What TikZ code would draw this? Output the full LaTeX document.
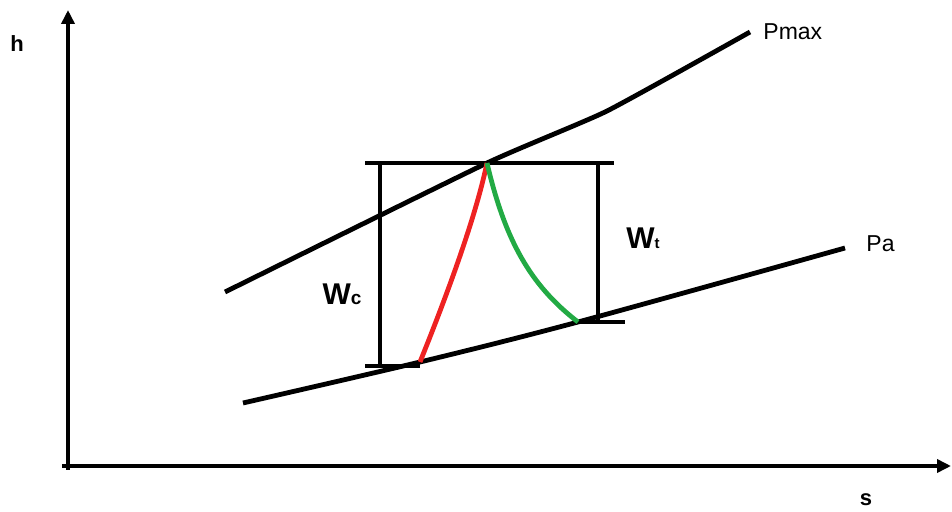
\documentclass[tikz,border=0pt]{standalone}
\usepackage{fontspec}
\setmainfont{Liberation Sans}
\usetikzlibrary{arrows.meta,positioning}
\definecolor{curvered}  {HTML}{EE2222}
\definecolor{curvegreen}{HTML}{22AA44}

\begin{document}
\begin{tikzpicture}[
  x=0.5pt,y=-0.5pt,
  axis/.style={line width=2.4pt,-{Triangle[length=7pt,width=6.5pt]}},
  isobar/.style={line width=2.4pt},
  bar/.style={line width=2.4pt},
  lbl/.style={font=\fontsize{11}{12}\selectfont\bfseries,inner sep=0pt},
  plbl/.style={font=\fontsize{11.5}{12}\selectfont,inner sep=0pt}
]
\useasboundingbox (0,0) rectangle (952,512);
% Axes
\coordinate (ytip)   at (68,10);
\coordinate (xtip)   at (951,466);
\draw[axis] (62,466) -- (xtip);
\draw[axis] (68,470) -- (ytip);
\node[lbl] (hlab) at (17,44)  {h};
\node[lbl] (slab) at (866,500) {s};
% Isobars
\coordinate (pmaxA) at (225,292);
\coordinate (top)   at (487,163);
\coordinate (pmaxB) at (750,32);
\coordinate (paA)   at (243,403);
\coordinate (low)   at (420,362);
\coordinate (mid)   at (578,322);
\coordinate (paB)   at (845,248);
\draw[isobar] plot[smooth,tension=0.3] coordinates
  {(pmaxA) (top) (607,111) (pmaxB)};
\draw[isobar] plot[smooth,tension=0.5] coordinates
  {(paA) (low) (mid) (paB)};
\node[plbl,anchor=west] (pmax) at (763,32)  {Pmax};
\node[plbl,anchor=west] (pa)   at (866,244) {Pa};
% Work bars
\draw[bar] (365,163) -- (614,163);
\draw[bar] (380,163) -- (380,366);
\draw[bar] (365,366) -- (420,366);
\draw[bar] (598,163) -- (598,322);
\draw[bar] (580,322) -- (625,322);
\node[lbl] (wc) at (342,294) {\fontsize{15}{15}\selectfont W\fontsize{9.5}{9.5}\selectfont c};
\node[lbl] (wt) at (643,238) {\fontsize{15}{15}\selectfont W\fontsize{7.5}{7.5}\selectfont t};
% Compression and expansion
\draw[curvered,line width=2.4pt] (low) .. controls (445,300) and (475,220) .. (top);
\draw[curvegreen,line width=2.4pt] (top) .. controls (505,240) and (530,285) .. (mid);
\end{tikzpicture}
\end{document}
